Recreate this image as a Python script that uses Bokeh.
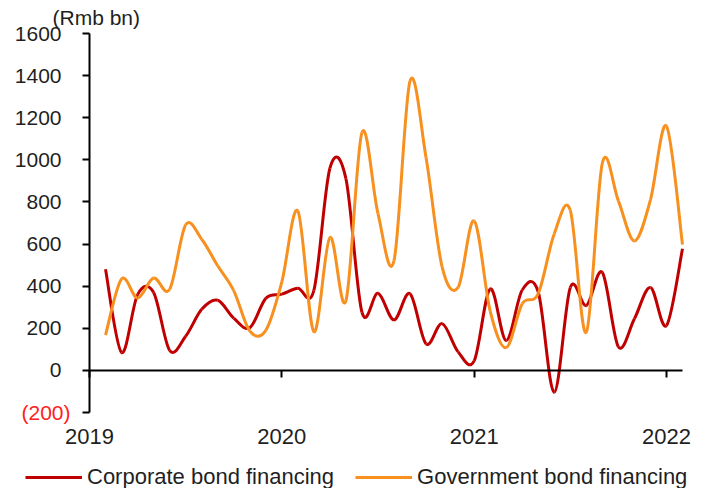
import numpy as np
from bokeh.plotting import figure
from bokeh.models import (Range1d, LinearAxis, FixedTicker, Legend, LegendItem,
                          Label, ColumnDataSource)
from bokeh.embed import file_html
from bokeh.resources import INLINE

# ---------------- data ----------------
months = ["2019-01", "2019-02", "2019-03", "2019-04", "2019-05", "2019-06",
          "2019-07", "2019-08", "2019-09", "2019-10", "2019-11", "2019-12",
          "2020-01", "2020-02", "2020-03", "2020-04", "2020-05", "2020-06",
          "2020-07", "2020-08", "2020-09", "2020-10", "2020-11", "2020-12",
          "2021-01", "2021-02", "2021-03", "2021-04", "2021-05", "2021-06",
          "2021-07", "2021-08", "2021-09", "2021-10", "2021-11", "2021-12",
          "2022-01"]

corporate = [480, 85, 360, 370, 95, 162, 290, 333, 248, 202, 342, 362,
             390, 380, 960, 910, 276, 366, 240, 364, 126, 222, 88, 45,
             387, 142, 382, 372, -104, 394, 308, 465, 112, 245, 394, 213,
             578]

government = [168, 434, 344, 439, 385, 691, 623, 497, 379, 187, 190, 420,
              757, 184, 631, 331, 1130, 745, 521, 1375, 1010, 492, 394, 710,
              282, 108, 316, 365, 649, 760, 181, 985, 805, 615, 810, 1160,
              598]

series_names = ["Corporate bond financing", "Government bond financing"]
year_ticks = [0, 12, 24, 36]
year_labels = ["2019", "2020", "2021", "2022"]
y_ticks = [-200, 0, 200, 400, 600, 800, 1000, 1200, 1400, 1600]
unit_label = "(Rmb bn)"
neg_label = "(200)"

RED = "#C00000"
ORANGE = "#F7901E"
TXT = "#1F1F1F"
FONT = "Liberation Sans"

# ---------------- layout (pixels) ----------------
W, H = 706, 488
PL, PR, PT, PB = 89, 682, 33, 412          # plot-area edges on the canvas
X0, X1 = 0, len(months)                    # x data extent of plot area
Y0, Y1 = y_ticks[0], y_ticks[-1]           # y data extent of plot area

sx = (PR - PL) / (X1 - X0)
sy = (PB - PT) / (Y1 - Y0)
x_range = Range1d(X0 - PL / sx, X1 + (W - PR) / sx)
y_range = Range1d(Y0 - (H - PB) / sy, Y1 + PT / sy)


def smooth_source(vals):
    """Bezier segments through the monthly points (Excel-style smoothed line)."""
    x = np.arange(1, len(vals) + 1, dtype=float)
    y = np.asarray(vals, dtype=float)
    n = len(x)
    xp = np.concatenate([[x[0]], x, [x[-1]]])
    yp = np.concatenate([[y[0]], y, [y[-1]]])
    x0, y0 = x[:-1], y[:-1]
    x1, y1 = x[1:], y[1:]
    cx0 = x0 + (xp[2:n + 1] - xp[0:n - 1]) / 6.0
    cy0 = y0 + (yp[2:n + 1] - yp[0:n - 1]) / 6.0
    cx1 = x1 - (xp[3:n + 2] - xp[1:n]) / 6.0
    cy1 = y1 - (yp[3:n + 2] - yp[1:n]) / 6.0
    return ColumnDataSource(dict(x0=x0, y0=y0, x1=x1, y1=y1,
                                 cx0=cx0, cy0=cy0, cx1=cx1, cy1=cy1))


p = figure(width=W, height=H, output_backend="svg", toolbar_location=None,
           x_range=x_range, y_range=y_range,
           x_axis_location=None, y_axis_location=None,
           min_border=0, min_border_left=0, min_border_right=0,
           min_border_top=0, min_border_bottom=0)
p.outline_line_color = None
p.xgrid.visible = False
p.ygrid.visible = False
p.background_fill_color = "white"
p.border_fill_color = "white"

# y axis (on x = 0)
ya = LinearAxis(fixed_location=X0, bounds=(Y0, Y1), ticker=FixedTicker(ticks=y_ticks),
                major_label_overrides={Y0: ""})
ya.axis_line_color = "black"
ya.axis_line_width = 2
ya.major_tick_line_color = "black"
ya.major_tick_line_width = 2
ya.major_tick_in = 0
ya.major_tick_out = 7
ya.minor_tick_line_color = None
ya.major_label_standoff = 21
ya.major_label_text_font = FONT
ya.major_label_text_font_size = "21px"
ya.major_label_text_color = TXT
p.add_layout(ya, "left")

# x axis, drawn on the zero line, labels far below
xa = LinearAxis(fixed_location=0, bounds=(X0, X1), ticker=FixedTicker(ticks=year_ticks),
                major_label_overrides={t: l for t, l in zip(year_ticks, year_labels)})
xa.axis_line_color = "black"
xa.axis_line_width = 2
xa.major_tick_line_color = "black"
xa.major_tick_line_width = 2
xa.major_tick_in = 0
xa.major_tick_out = 7
xa.minor_tick_line_color = None
xa.major_label_standoff = 52
xa.major_label_text_font = FONT
xa.major_label_text_font_size = "22px"
xa.major_label_text_color = TXT
p.add_layout(xa, "below")

# series
r_corp = p.bezier(x0="x0", y0="y0", x1="x1", y1="y1", cx0="cx0", cy0="cy0",
                  cx1="cx1", cy1="cy1", source=smooth_source(corporate),
                  line_color=RED, line_width=3)
r_gov = p.bezier(x0="x0", y0="y0", x1="x1", y1="y1", cx0="cx0", cy0="cy0",
                 cx1="cx1", cy1="cy1", source=smooth_source(government),
                 line_color=ORANGE, line_width=3)

# labels
p.add_layout(Label(x=X0, y=Y1, x_offset=-37, y_offset=16, text=unit_label,
                   text_align="left", text_baseline="middle",
                   text_font=FONT, text_font_size="21px", text_color=TXT))
p.add_layout(Label(x=X0, y=Y0, x_offset=-19, text=neg_label,
                   text_align="right", text_baseline="middle",
                   text_font=FONT, text_font_size="21px", text_color="#FF2020"))

legend = Legend(items=[LegendItem(label=series_names[0], renderers=[r_corp]),
                       LegendItem(label=series_names[1], renderers=[r_gov])],
                location=(25, -2), orientation="horizontal")
legend.padding = 0
legend.margin = 0
legend.spacing = 21
legend.glyph_width = 57
legend.glyph_height = 22
legend.label_height = 22
legend.label_standoff = 5
legend.label_text_font = FONT
legend.label_text_font_size = "22px"
legend.label_text_color = TXT
legend.border_line_color = None
legend.background_fill_alpha = 0
p.add_layout(legend)

open("out.html", "w").write(file_html(p, INLINE))
